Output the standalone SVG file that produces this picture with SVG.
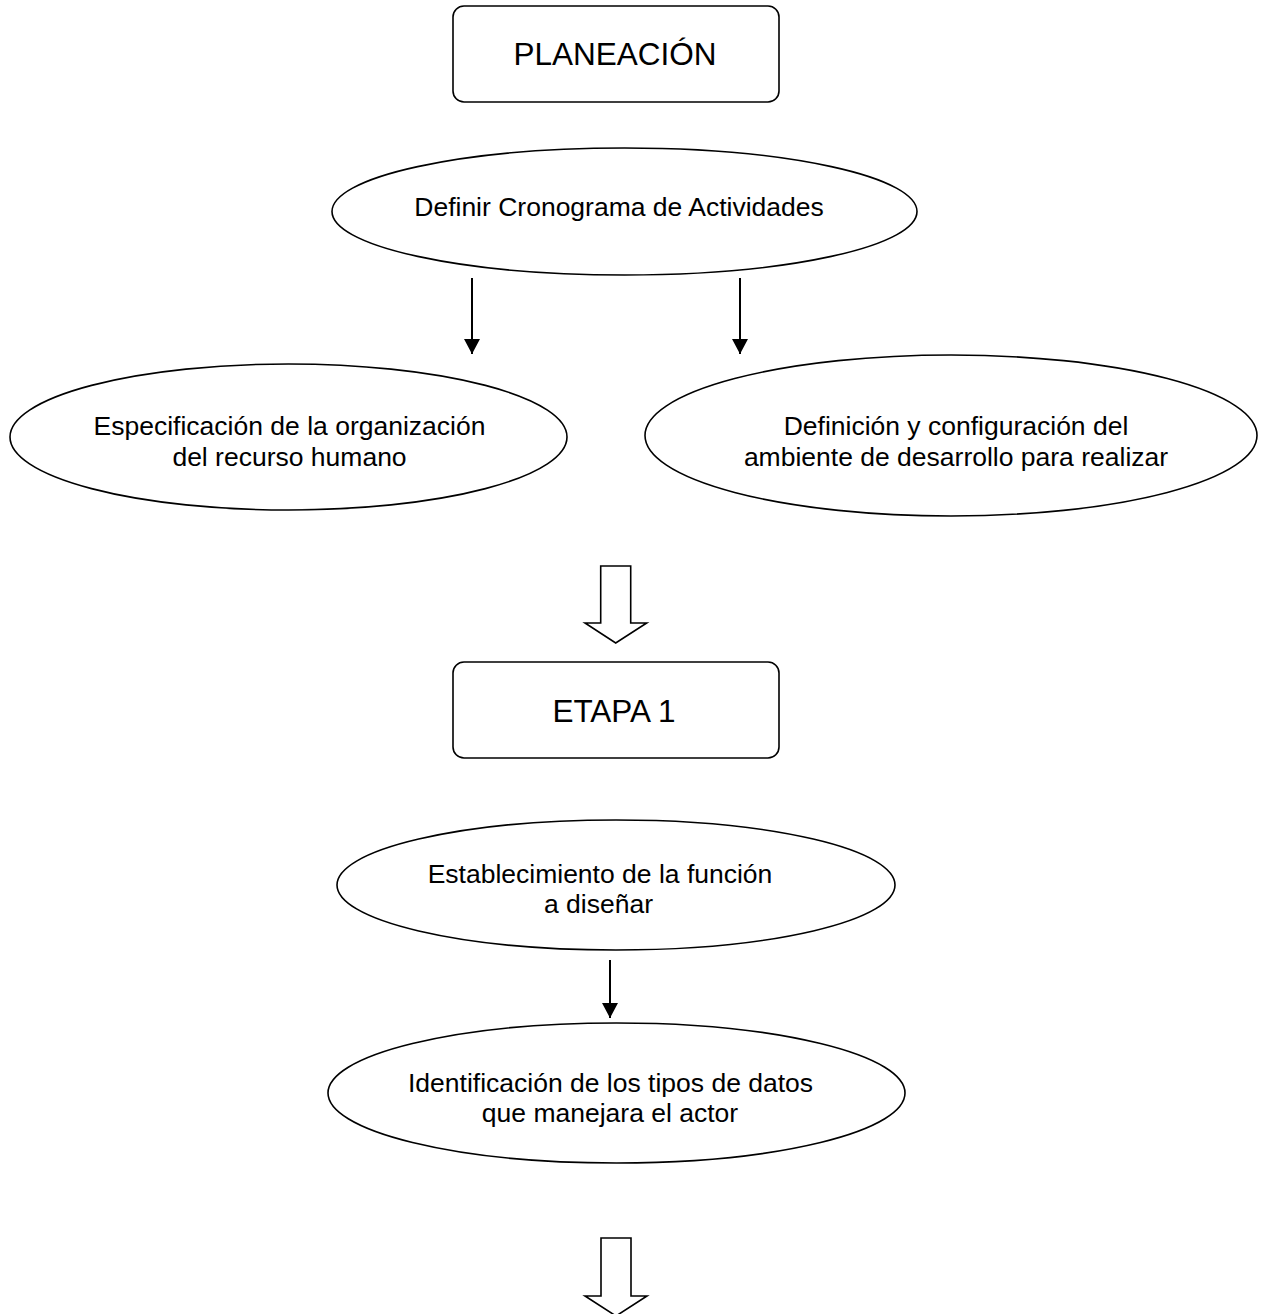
<svg xmlns="http://www.w3.org/2000/svg" width="1262" height="1314" viewBox="0 0 1262 1314">
<style>
.box{fill:#fff;stroke:#000;stroke-width:1.6}
.ell{fill:#fff;stroke:#000;stroke-width:1.6}
.t{font-family:"Liberation Sans",Arial,sans-serif;fill:#000;text-anchor:middle}
.big{font-size:31.5px}
.med{font-size:26.5px}
.ln{stroke:#000;stroke-width:2;fill:none}
.blk{fill:#fff;stroke:#000;stroke-width:1.6;stroke-linejoin:miter}
</style>
<defs>
<marker id="ah" markerWidth="16" markerHeight="16" refX="15" refY="8" orient="auto" markerUnits="userSpaceOnUse">
<path d="M0,0 L15,8 L0,16 Z" fill="#000"/>
</marker>
</defs>
<rect width="1262" height="1314" fill="#fff"/>
<g id="planeacion">
<rect class="box" x="453" y="6" width="326" height="96" rx="11"/>
<text class="t big" x="615" y="65">PLANEACIÓN</text>
</g>
<g id="cronograma">
<ellipse class="ell" cx="624.5" cy="211.5" rx="292.5" ry="63.5"/>
<text class="t med" x="619" y="216">Definir Cronograma de Actividades</text>
</g>
<g id="especificacion">
<ellipse class="ell" cx="288.5" cy="437" rx="278.5" ry="73"/>
<text class="t med" x="289.5" y="435">Especificación de la organización</text>
<text class="t med" x="289.5" y="466">del recurso humano</text>
</g>
<g id="definicion">
<ellipse class="ell" cx="951" cy="435.5" rx="306" ry="80.5"/>
<text class="t med" x="956" y="435">Definición y configuración del</text>
<text class="t med" x="956" y="466">ambiente de desarrollo para realizar</text>
</g>
<g id="etapa1">
<rect class="box" x="453" y="662" width="326" height="96" rx="11"/>
<text class="t big" x="614" y="722">ETAPA 1</text>
</g>
<g id="establecimiento">
<ellipse class="ell" cx="616" cy="885" rx="279" ry="65"/>
<text class="t med" x="600" y="883">Establecimiento de la función</text>
<text class="t med" x="598.5" y="913">a diseñar</text>
</g>
<g id="identificacion">
<ellipse class="ell" cx="616.5" cy="1093" rx="288.5" ry="70"/>
<text class="t med" x="610.5" y="1092">Identificación de los tipos de datos</text>
<text class="t med" x="610" y="1122">que manejara el actor</text>
</g>
<g id="connectors">
<line class="ln" x1="472" y1="278" x2="472" y2="354" marker-end="url(#ah)"/>
<line class="ln" x1="740" y1="278" x2="740" y2="354" marker-end="url(#ah)"/>
<line class="ln" x1="610" y1="960" x2="610" y2="1018" marker-end="url(#ah)"/>
<path class="blk" d="M600.7,566 L630.7,566 L630.7,623 L646.7,623 L615.7,643 L585,623 L600.7,623 Z"/>
<path class="blk" d="M601,1238 L631,1238 L631,1296 L647,1296 L616,1316 L585,1296 L601,1296 Z"/>
</g>
</svg>
